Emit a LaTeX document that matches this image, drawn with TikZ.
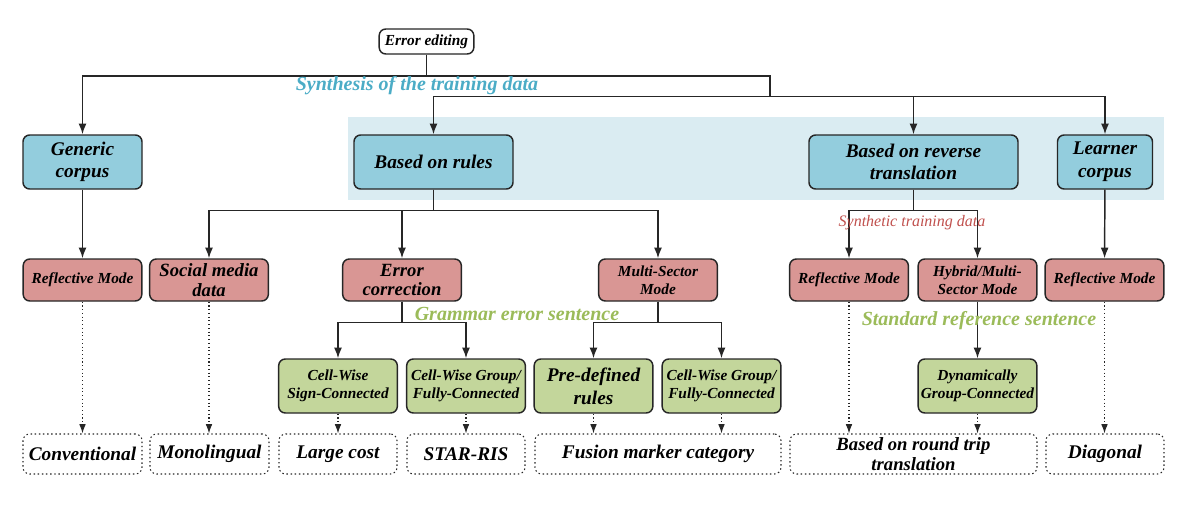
\documentclass[tikz,border=0pt]{standalone}
\usepackage{fontspec}
\setmainfont{Liberation Serif}
\usetikzlibrary{arrows.meta}

\definecolor{lineclr}{HTML}{262626}
\definecolor{bandblue}{HTML}{DAECF2}
\definecolor{topblue}{HTML}{93CDDD}
\definecolor{modered}{HTML}{D99694}
\definecolor{leafgreen}{HTML}{C3D69B}
\definecolor{synthcyan}{HTML}{4BACC6}
\definecolor{synthred}{HTML}{C0504D}
\definecolor{sentgreen}{HTML}{9BBB59}

\newcommand{\bigtxt}{\bfseries\itshape\fontsize{14.5}{17}\selectfont}
\newcommand{\tighttxt}{\bfseries\itshape\fontsize{14}{14.5}\selectfont}
\newcommand{\smalltxt}{\bfseries\itshape\fontsize{11.5}{13.8}\selectfont}

\begin{document}
\begin{tikzpicture}[x=0.75pt,y=-0.75pt,
    box/.style={rectangle,draw=lineclr,line width=1.1pt,rounded corners=5pt,align=center,inner sep=1pt},
    wd/.style={minimum width=#1*0.75pt},
    topbox/.style={box,fill=topblue,minimum height=40.5pt,font=\bigtxt},
    modebox/.style={box,fill=modered,minimum height=31.5pt,minimum width=89pt},
    leafbox/.style={box,fill=leafgreen,minimum height=40.5pt,minimum width=89pt},
    endbox/.style={box,dotted,line width=0.8pt,fill=white,minimum height=30pt,font=\bigtxt},
    arrow/.style={-{Latex[length=8pt,width=6pt]},line width=1.1pt,draw=lineclr},
    line/.style={line width=1.1pt,draw=lineclr},
    dotarrow/.style={-{Latex[length=7pt,width=5pt]},line width=0.8pt,dotted,draw=lineclr},
    tag/.style={font=\bfseries\itshape\fontsize{15}{17}\selectfont,inner sep=0pt}
  ]
  \useasboundingbox (0,0) rectangle (1186,504);

  % light band behind the second level
  \fill[bandblue] (348,117) rectangle (1164,200);

  \node[box,fill=white,font=\smalltxt,minimum width=71pt,minimum height=18.75pt] (edit) at (426.5,41.5) {Error editing};

  \node[topbox,wd=119] (generic) at (82.5,162) {Generic\\corpus};
  \node[topbox,wd=159] (rules) at (433.5,162) {Based on rules};
  \node[topbox,wd=209] (reverse) at (913.5,162) {Based on reverse\\translation};
  \node[topbox,wd=95] (learner) at (1105,162) {Learner\\corpus};

  \node[modebox,font=\smalltxt] (reflA) at (82.5,280) {Reflective Mode};
  \node[modebox,font=\tighttxt] (social) at (209,280) {Social media\\data};
  \node[modebox,font=\tighttxt] (errcorr) at (402,280) {Error\\correction};
  \node[modebox,font=\smalltxt] (multi) at (658,280) {Multi-Sector\\Mode};
  \node[modebox,font=\smalltxt] (reflB) at (849,280) {Reflective Mode};
  \node[modebox,font=\smalltxt] (hybrid) at (977.5,280) {Hybrid/Multi-\\Sector Mode};
  \node[modebox,font=\smalltxt] (reflC) at (1104.5,280) {Reflective Mode};

  \node[leafbox,font=\smalltxt] (signconn) at (338,386) {Cell-Wise\\Sign-Connected};
  \node[leafbox,font=\smalltxt] (groupA) at (466,386) {Cell-Wise Group/\\Fully-Connected};
  \node[leafbox,font=\bigtxt] (predef) at (593.5,386) {Pre-defined\\rules};
  \node[leafbox,font=\smalltxt] (groupB) at (721.5,386) {Cell-Wise Group/\\Fully-Connected};
  \node[leafbox,font=\smalltxt] (dyn) at (977.5,386) {Dynamically\\Group-Connected};

  \node[endbox,wd=119] (conv) at (82.5,454) {Conventional};
  \node[endbox,wd=119] (mono) at (209.5,454) {Monolingual};
  \node[endbox,wd=118] (cost) at (338,454) {Large cost};
  \node[endbox,wd=118] (star) at (466,454) {STAR-RIS};
  \node[endbox,wd=246] (fusion) at (658,454) {Fusion marker category};
  \node[endbox,wd=247,font=\tighttxt] (roundtrip) at (913.5,454) {Based on round trip\\translation};
  \node[endbox,wd=118] (diag) at (1105,454) {Diagonal};

  % top rails
  \coordinate (railA) at (770,76);
  \coordinate (railB) at (770,96.5);
  \draw[line] (edit.south) |- (railA) -- (railB);
  \draw[arrow] (railA) -| (generic.north);
  \draw[arrow] (railB) -| (rules.north);
  \draw[arrow] (railB) -| (reverse.north);
  \draw[arrow] (railB) -| (learner.north);

  \draw[arrow] (generic) -- (reflA);
  \draw[arrow] (rules.south) -- ++(0,21) -| (social.north);
  \draw[arrow] (rules.south) -- ++(0,21) -| (errcorr.north);
  \draw[arrow] (rules.south) -- ++(0,21) -| (multi.north);
  \draw[arrow] (reverse.south) -- ++(0,21) -| (reflB.north);
  \draw[arrow] (reverse.south) -- ++(0,21) -| (hybrid.north);
  \draw[arrow] (learner) -- (reflC);

  \draw[arrow] (errcorr.south) -- ++(0,21) -| (signconn.north);
  \draw[arrow] (errcorr.south) -- ++(0,21) -| (groupA.north);
  \draw[arrow] (multi.south) -- ++(0,21) -| (predef.north);
  \draw[arrow] (multi.south) -- ++(0,21) -| (groupB.north);
  \draw[arrow] (hybrid) -- (dyn);

  % dotted leads to the bottom row
  \draw[dotarrow] (reflA.south) -- (reflA.south |- conv.north);
  \draw[dotarrow] (social.south) -- (social.south |- mono.north);
  \draw[dotarrow] (signconn.south) -- (signconn.south |- cost.north);
  \draw[dotarrow] (groupA.south) -- (groupA.south |- star.north);
  \draw[dotarrow] (predef.south) -- (predef.south |- fusion.north);
  \draw[dotarrow] (groupB.south) -- (groupB.south |- fusion.north);
  \draw[dotarrow] (reflB.south) -- (reflB.south |- roundtrip.north);
  \draw[dotarrow] (dyn.south) -- (dyn.south |- roundtrip.north);
  \draw[dotarrow] (reflC.south) -- (reflC.south |- diag.north);

  \node[tag,text=synthcyan] (synth) at (417,86) {Synthesis of the training data};
  \node[font=\itshape\fontsize{12}{14}\selectfont,text=synthred,inner sep=0pt] (synthdata) at (912,223) {Synthetic training data};
  \node[tag,text=sentgreen] (gramm) at (517,314) {Grammar error sentence};
  \node[tag,text=sentgreen] (stdref) at (979,321) {Standard reference sentence};

\end{tikzpicture}
\end{document}
